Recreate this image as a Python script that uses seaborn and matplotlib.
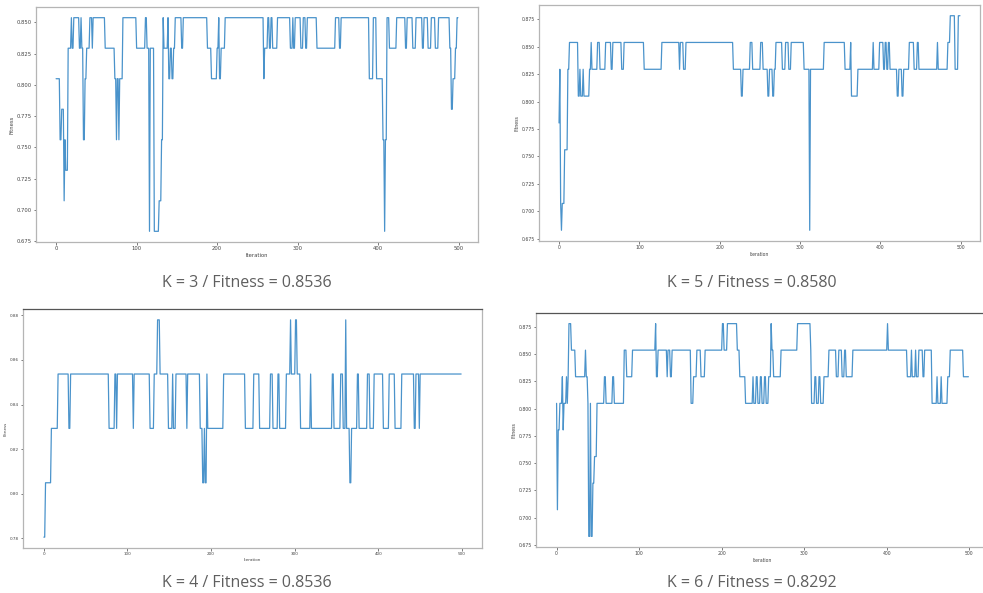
import numpy as np
import matplotlib
matplotlib.use("Agg")
import matplotlib.pyplot as plt
import seaborn as sns

N_ITER = 500

# fitness runs: iteration where a level starts, and that level
k3_starts = [0, 5, 7, 10, 11, 12, 15, 19, 20, 22,
             29, 31, 32, 34, 36, 38, 42, 45, 46, 61,
             73, 75, 76, 78, 79, 83, 100, 111, 113, 116,
             117, 122, 128, 131, 133, 134, 139, 140, 142, 144,
             146, 148, 156, 158, 188, 193, 200, 202, 203, 205,
             210, 258, 259, 263, 265, 267, 269, 275, 291, 294,
             295, 297, 304, 307, 310, 312, 324, 347, 352, 354,
             389, 394, 398, 406, 408, 409, 411, 414, 423, 434,
             436, 443, 447, 455, 457, 462, 466, 471, 475, 489,
             491, 493, 496, 498]
k3_levels = [.8049, .7561, .7805, .7073, .7561, .7317, .8293, .8537, .8293, .8537,
             .8293, .8537, .8293, .7561, .8049, .8293, .8537, .8293, .8537, .8293,
             .8049, .7561, .8049, .7561, .8049, .8537, .8293, .8537, .8293, .6829,
             .8293, .6829, .7073, .7561, .8537, .8293, .8537, .8049, .8293, .8049,
             .8293, .8537, .8293, .8537, .8293, .8049, .8293, .8537, .8049, .8293,
             .8537, .8049, .8293, .8537, .8293, .8537, .8293, .8537, .8293, .8537,
             .8293, .8537, .8293, .8537, .8293, .8537, .8293, .8537, .8293, .8537,
             .8049, .8537, .8049, .7561, .6829, .7561, .8537, .8293, .8537, .8293,
             .8537, .8293, .8537, .8293, .8537, .8293, .8537, .8293, .8537, .8293,
             .7805, .8049, .8293, .8537]

k5_starts = [0, 1, 2, 3, 4, 7, 11, 13, 24, 26,
             27, 30, 31, 38, 40, 41, 48, 51, 58, 65,
             67, 78, 81, 106, 128, 150, 151, 155, 158, 217,
             227, 229, 238, 241, 251, 254, 260, 262, 266, 268,
             270, 278, 282, 286, 289, 305, 312, 313, 330, 356,
             363, 364, 372, 391, 392, 399, 404, 406, 408, 410,
             412, 421, 423, 427, 429, 436, 442, 446, 448, 471,
             472, 484, 487, 493, 497]
k5_levels = [.7805, .8293, .7073, .6829, .7073, .7561, .8293, .8537, .8049, .8293,
             .8049, .8293, .8049, .8293, .8537, .8293, .8537, .8293, .8537, .8293,
             .8537, .8293, .8537, .8293, .8537, .8293, .8537, .8293, .8537, .8293,
             .8049, .8293, .8537, .8293, .8537, .8293, .8049, .8293, .8049, .8293,
             .8537, .8293, .8537, .8293, .8537, .8293, .6829, .8293, .8537, .8293,
             .8537, .8049, .8293, .8537, .8293, .8537, .8293, .8537, .8293, .8537,
             .8293, .8049, .8293, .8049, .8293, .8537, .8293, .8537, .8293, .8537,
             .8293, .8537, .8780, .8293, .8780]

k4_starts = [0, 2, 9, 17, 30, 32, 78, 85, 87, 88,
             107, 108, 127, 132, 136, 139, 149, 154, 155, 158,
             171, 172, 187, 190, 192, 193, 195, 196, 215, 241,
             251, 258, 271, 274, 280, 282, 290, 295, 296, 301,
             303, 307, 319, 320, 345, 347, 355, 358, 361, 362,
             366, 368, 375, 377, 387, 390, 395, 406, 413, 420,
             428, 443, 445, 449, 450]
k4_levels = [.7805, .8049, .8293, .8537, .8293, .8537, .8293, .8537, .8293, .8537,
             .8293, .8537, .8293, .8537, .8780, .8537, .8293, .8537, .8293, .8537,
             .8293, .8537, .8293, .8049, .8293, .8049, .8537, .8293, .8537, .8293,
             .8537, .8293, .8537, .8293, .8537, .8293, .8537, .8780, .8537, .8780,
             .8537, .8293, .8537, .8293, .8537, .8293, .8537, .8293, .8780, .8293,
             .8049, .8293, .8537, .8293, .8537, .8293, .8537, .8293, .8537, .8293,
             .8537, .8293, .8537, .8293, .8537]

k6_starts = [0, 1, 2, 4, 7, 8, 9, 12, 13, 14,
             15, 18, 23, 35, 36, 38, 39, 41, 42, 44,
             46, 49, 58, 60, 68, 70, 82, 85, 92, 120,
             121, 123, 134, 135, 138, 140, 163, 166, 170, 175,
             180, 201, 203, 207, 219, 222, 229, 238, 239, 242,
             244, 247, 249, 252, 254, 257, 260, 261, 263, 272,
             292, 308, 309, 313, 315, 318, 320, 324, 330, 339,
             342, 346, 349, 351, 359, 401, 402, 425, 430, 431,
             435, 436, 439, 444, 446, 455, 461, 462, 466, 467,
             474, 477, 493]
k6_levels = [.8049, .7073, .7805, .8049, .8293, .7805, .8049, .8293, .8049, .8293,
             .8780, .8537, .8293, .8537, .8293, .8049, .6829, .8049, .6829, .7317,
             .7561, .8049, .8293, .8049, .8293, .8049, .8537, .8293, .8537, .8780,
             .8293, .8537, .8293, .8537, .8293, .8537, .8049, .8293, .8537, .8293,
             .8537, .8780, .8537, .8780, .8537, .8293, .8049, .8293, .8049, .8293,
             .8049, .8293, .8049, .8293, .8049, .8293, .8780, .8537, .8293, .8537,
             .8780, .8537, .8049, .8293, .8049, .8293, .8049, .8293, .8537, .8293,
             .8537, .8293, .8537, .8293, .8537, .8780, .8537, .8293, .8537, .8293,
             .8537, .8293, .8537, .8293, .8537, .8049, .8293, .8049, .8293, .8049,
             .8293, .8537, .8293]

captions = ["K = 3 / Fitness = 0.8536", "K = 5 / Fitness = 0.8580",
            "K = 4 / Fitness = 0.8536", "K = 6 / Fitness = 0.8292"]


def expand(starts, levels):
    lengths = np.diff(list(starts) + [N_ITER])
    return np.repeat(levels, lengths)


sns.set_style("white")
plt.rcParams['font.family'] = ['DejaVu Sans']

W, H = 983, 593
fig = plt.figure(figsize=(W / 100, H / 100), dpi=100)

# (left, top, right, bottom) of each screenshot's axes in pixels, tick font size
panels = [
    (k3_starts, k3_levels, (36, 7, 478, 242), 3.8, '#b5b5b5'),
    (k5_starts, k5_levels, (539, 5, 980, 241), 3.3, '#b5b5b5'),
    (k4_starts, k4_levels, (23, 309, 482, 548), 3.0, '#555555'),
    (k6_starts, k6_levels, (536, 313, 989, 547), 3.3, '#555555'),
]
caption_pos = [(247, 283), (752, 283), (247, 583), (752, 583)]

iterations = np.arange(N_ITER)
for (starts, levels, box, fs, topcol), cap, (cx, cy) in zip(panels, captions, caption_pos):
    l, t, r, b = box
    ax = fig.add_axes([l / W, 1 - b / H, (r - l) / W, (b - t) / H])
    sns.lineplot(x=iterations, y=expand(starts, levels), ax=ax,
                 color='#4a93cb', linewidth=0.9)
    ax.tick_params(labelsize=fs, length=1.8, width=0.5, pad=1,
                   colors='#444444', left=True, bottom=True)
    ax.set_xlabel('Iteration', fontsize=fs, labelpad=1.5, color='#444444')
    ax.set_ylabel('Fitness', fontsize=fs, labelpad=1.5, color='#444444')
    for name, sp in ax.spines.items():
        sp.set_color('#b5b5b5')
        sp.set_linewidth(0.9)
    ax.spines['top'].set_color(topcol)
    fig.text(cx / W, 1 - cy / H, cap, ha='center', va='center',
             fontsize=11.5, color='#5f5f5f', family=['Open Sans', 'DejaVu Sans'])

fig.savefig('out.png', dpi=100)
